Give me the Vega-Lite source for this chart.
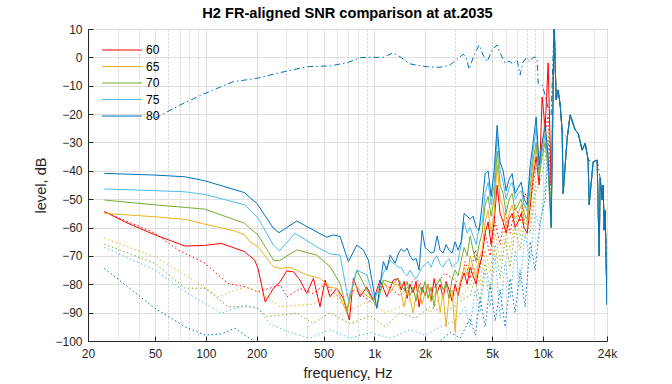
{
"$schema": "https://vega.github.io/schema/vega-lite/v6.json",
"width": 519, "height": 312,
"autosize": {"type": "none"},
"padding": {"left": 88, "top": 29, "right": 65, "bottom": 43},
"title": {"text": "H2 FR-aligned SNR comparison at at.2035", "fontSize": 14.6, "fontWeight": "bold", "font": "Liberation Sans", "color": "#000000", "offset": 2},
"config": {
  "view": {"stroke": "#262626", "strokeWidth": 1},
  "font": "Liberation Sans",
  "axis": {"domainColor": "#262626", "tickColor": "#262626", "labelColor": "#262626", "titleColor": "#262626", "labelFont": "Liberation Sans", "titleFont": "Liberation Sans", "labelFontSize": 12, "titleFontSize": 14.6, "titleFontWeight": "normal", "gridWidth": 1, "domainWidth": 1, "tickWidth": 1}
},
"datasets": {
"snr": [
{"s":"60","f":25,"v":-54.4},{"s":"60","f":34.5,"v":-58.5},{"s":"60","f":50,"v":-62.6},{"s":"60","f":75,"v":-66.5},{"s":"60","f":98.5,"v":-66.3},{"s":"60","f":123.6,"v":-65.6},{"s":"60","f":170,"v":-68.5},{"s":"60","f":195,"v":-71.5},{"s":"60","f":204,"v":-74.4},{"s":"60","f":225,"v":-86.2},{"s":"60","f":252,"v":-81.4},{"s":"60","f":276,"v":-79.1},{"s":"60","f":302,"v":-75.3},{"s":"60","f":331,"v":-75.6},{"s":"60","f":362,"v":-78.5},{"s":"60","f":397,"v":-83.2},{"s":"60","f":435,"v":-77.9},{"s":"60","f":476,"v":-87.9},{"s":"60","f":510,"v":-78.5},{"s":"60","f":546,"v":-84.4},{"s":"60","f":598,"v":-81.4},{"s":"60","f":655,"v":-85},{"s":"60","f":711,"v":-92.6},{"s":"60","f":751,"v":-77.9},{"s":"60","f":823,"v":-84.4},{"s":"60","f":902,"v":-81},{"s":"60","f":987,"v":-85.6},{"s":"60","f":1081,"v":-78.5},{"s":"60","f":1185,"v":-84.4},{"s":"60","f":1297,"v":-78.5},
{"s":"60","f":1383,"v":-78},{"s":"60","f":1441,"v":-82},{"s":"60","f":1502,"v":-79},{"s":"60","f":1564,"v":-85},{"s":"60","f":1629,"v":-80},{"s":"60","f":1697,"v":-83},{"s":"60","f":1768,"v":-79},{"s":"60","f":1842,"v":-88},{"s":"60","f":1919,"v":-81},{"s":"60","f":2000,"v":-84},{"s":"60","f":2084,"v":-80},{"s":"60","f":2171,"v":-86},{"s":"60","f":2262,"v":-78},{"s":"60","f":2357,"v":-83},{"s":"60","f":2455,"v":-80},{"s":"60","f":2558,"v":-85},{"s":"60","f":2665,"v":-79},{"s":"60","f":2776,"v":-82},{"s":"60","f":2893,"v":-86},{"s":"60","f":3014,"v":-80},{"s":"60","f":3140,"v":-84},{"s":"60","f":3271,"v":-79},{"s":"60","f":3408,"v":-76},{"s":"60","f":3551,"v":-80},{"s":"60","f":3700,"v":-74},{"s":"60","f":3854,"v":-77},{"s":"60","f":4016,"v":-80},{"s":"60","f":4182,"v":-74},{"s":"60","f":4358,"v":-70},{"s":"60","f":4541,"v":-62},{"s":"60","f":4730,"v":-58},{"s":"60","f":4928,"v":-66},{"s":"60","f":5135,"v":-58},{"s":"60","f":5350,"v":-45},{"s":"60","f":5573,"v":-55},{"s":"60","f":5806,"v":-58},{"s":"60","f":6050,"v":-62},{"s":"60","f":6304,"v":-57},{"s":"60","f":6568,"v":-55},{"s":"60","f":6843,"v":-60},{"s":"60","f":7130,"v":-58},{"s":"60","f":7428,"v":-55},{"s":"60","f":7739,"v":-60},{"s":"60","f":8063,"v":-62},{"s":"60","f":8400,"v":-53},{"s":"60","f":8751,"v":-42},{"s":"60","f":9117,"v":-35},{"s":"60","f":9499,"v":-45},{"s":"60","f":9894,"v":-14},{"s":"60","f":10310,"v":-25},{"s":"60","f":10740,"v":-2},{"s":"60","f":11190,"v":-45},
{"s":"60","f":11660,"v":12},{"s":"60","f":11980,"v":-15},{"s":"60","f":12310,"v":-11.5},{"s":"60","f":12660,"v":-16.8},{"s":"60","f":13010,"v":-26.2},{"s":"60","f":13180,"v":-48},{"s":"60","f":13930,"v":-28.5},{"s":"60","f":14510,"v":-20.3},{"s":"60","f":15540,"v":-25.6},{"s":"60","f":16190,"v":-26.8},{"s":"60","f":17090,"v":-32.7},{"s":"60","f":17810,"v":-30.3},{"s":"60","f":18550,"v":-36.2},{"s":"60","f":18800,"v":-52},{"s":"60","f":19870,"v":-36.8},{"s":"60","f":20980,"v":-36.2},{"s":"60","f":21560,"v":-70},{"s":"60","f":21860,"v":-42.6},{"s":"60","f":22460,"v":-50.3},{"s":"60","f":22770,"v":-45},{"s":"60","f":23080,"v":-60.9},{"s":"60","f":23400,"v":-53.8},{"s":"60","f":23720,"v":-71.5},{"s":"60","f":24000,"v":-87.3},

{"s":"65","f":25,"v":-55},{"s":"65","f":50,"v":-56.2},{"s":"65","f":75,"v":-57.1},{"s":"65","f":98.5,"v":-58.8},{"s":"65","f":148.5,"v":-61.2},{"s":"65","f":170,"v":-62.6},{"s":"65","f":183,"v":-65},{"s":"65","f":204,"v":-66.8},{"s":"65","f":252,"v":-73.8},{"s":"65","f":276,"v":-74.4},{"s":"65","f":316,"v":-74},{"s":"65","f":397,"v":-76.7},{"s":"65","f":476,"v":-77.9},{"s":"65","f":546,"v":-81.1},{"s":"65","f":598,"v":-81.4},{"s":"65","f":686,"v":-90.2},{"s":"65","f":751,"v":-79.7},{"s":"65","f":861,"v":-83.2},{"s":"65","f":987,"v":-85.6},{"s":"65","f":1131,"v":-79.1},{"s":"65","f":1240,"v":-83},{"s":"65","f":1328,"v":-80},
{"s":"65","f":1383,"v":-80},{"s":"65","f":1441,"v":-83},{"s":"65","f":1502,"v":-88},{"s":"65","f":1564,"v":-82},{"s":"65","f":1629,"v":-85},{"s":"65","f":1697,"v":-90},{"s":"65","f":1768,"v":-84},{"s":"65","f":1842,"v":-82},{"s":"65","f":1919,"v":-87},{"s":"65","f":2000,"v":-83},{"s":"65","f":2084,"v":-80},{"s":"65","f":2171,"v":-86},{"s":"65","f":2262,"v":-84},{"s":"65","f":2357,"v":-82},{"s":"65","f":2455,"v":-90},{"s":"65","f":2558,"v":-83},{"s":"65","f":2665,"v":-95},{"s":"65","f":2776,"v":-84},{"s":"65","f":2893,"v":-82},{"s":"65","f":3014,"v":-97},{"s":"65","f":3140,"v":-82},{"s":"65","f":3271,"v":-78},{"s":"65","f":3408,"v":-74},{"s":"65","f":3551,"v":-77},{"s":"65","f":3700,"v":-70},{"s":"65","f":3854,"v":-74},{"s":"65","f":4016,"v":-78},{"s":"65","f":4182,"v":-71},{"s":"65","f":4358,"v":-68},{"s":"65","f":4541,"v":-58},{"s":"65","f":4730,"v":-54},{"s":"65","f":4928,"v":-62},{"s":"65","f":5135,"v":-55},{"s":"65","f":5350,"v":-38},{"s":"65","f":5573,"v":-50},{"s":"65","f":5806,"v":-53},{"s":"65","f":6050,"v":-60},{"s":"65","f":6304,"v":-55},{"s":"65","f":6568,"v":-52},{"s":"65","f":6843,"v":-57},{"s":"65","f":7130,"v":-55},{"s":"65","f":7428,"v":-52},{"s":"65","f":7739,"v":-58},{"s":"65","f":8063,"v":-59},{"s":"65","f":8400,"v":-50},{"s":"65","f":8751,"v":-40},{"s":"65","f":9117,"v":-32},{"s":"65","f":9499,"v":-40},{"s":"65","f":9894,"v":-30},{"s":"65","f":10310,"v":-25},{"s":"65","f":10740,"v":-35},{"s":"65","f":11190,"v":-58},
{"s":"65","f":11660,"v":12},{"s":"65","f":11980,"v":-15},{"s":"65","f":12310,"v":-11.5},{"s":"65","f":12660,"v":-16.8},{"s":"65","f":13010,"v":-26.2},{"s":"65","f":13180,"v":-48},{"s":"65","f":13930,"v":-28.5},{"s":"65","f":14510,"v":-20.3},{"s":"65","f":15540,"v":-25.6},{"s":"65","f":16190,"v":-26.8},{"s":"65","f":17090,"v":-32.7},{"s":"65","f":17810,"v":-30.3},{"s":"65","f":18550,"v":-36.2},{"s":"65","f":18800,"v":-52},{"s":"65","f":19870,"v":-36.8},{"s":"65","f":20980,"v":-36.2},{"s":"65","f":21560,"v":-70},{"s":"65","f":21860,"v":-42.6},{"s":"65","f":22460,"v":-50.3},{"s":"65","f":22770,"v":-45},{"s":"65","f":23080,"v":-60.9},{"s":"65","f":23400,"v":-53.8},{"s":"65","f":23720,"v":-71.5},{"s":"65","f":24000,"v":-87.3},

{"s":"70","f":25,"v":-50.3},{"s":"70","f":50,"v":-52},{"s":"70","f":75,"v":-52.9},{"s":"70","f":98.5,"v":-53.5},{"s":"70","f":170,"v":-58.5},{"s":"70","f":183,"v":-60.3},{"s":"70","f":204,"v":-62.6},{"s":"70","f":252,"v":-71.5},{"s":"70","f":273,"v":-71.7},{"s":"70","f":346,"v":-67.9},{"s":"70","f":455,"v":-69.7},{"s":"70","f":546,"v":-73.8},{"s":"70","f":626,"v":-79.7},{"s":"70","f":686,"v":-89.1},{"s":"70","f":787,"v":-75},{"s":"70","f":902,"v":-82},{"s":"70","f":1034,"v":-87.9},{"s":"70","f":1131,"v":-78.5},{"s":"70","f":1297,"v":-79.7},
{"s":"70","f":1383,"v":-78},{"s":"70","f":1441,"v":-80},{"s":"70","f":1502,"v":-82},{"s":"70","f":1564,"v":-79},{"s":"70","f":1629,"v":-84},{"s":"70","f":1697,"v":-81},{"s":"70","f":1768,"v":-86},{"s":"70","f":1842,"v":-80},{"s":"70","f":1919,"v":-83},{"s":"70","f":2000,"v":-79},{"s":"70","f":2084,"v":-85},{"s":"70","f":2171,"v":-81},{"s":"70","f":2262,"v":-88},{"s":"70","f":2357,"v":-80},{"s":"70","f":2455,"v":-78},{"s":"70","f":2558,"v":-82},{"s":"70","f":2665,"v":-80},{"s":"70","f":2776,"v":-85},{"s":"70","f":2893,"v":-78},{"s":"70","f":3014,"v":-75},{"s":"70","f":3140,"v":-77},{"s":"70","f":3271,"v":-72},{"s":"70","f":3408,"v":-67},{"s":"70","f":3551,"v":-70},{"s":"70","f":3700,"v":-63},{"s":"70","f":3854,"v":-68},{"s":"70","f":4016,"v":-72},{"s":"70","f":4182,"v":-66},{"s":"70","f":4358,"v":-62},{"s":"70","f":4541,"v":-52},{"s":"70","f":4730,"v":-49},{"s":"70","f":4928,"v":-56},{"s":"70","f":5135,"v":-50},{"s":"70","f":5350,"v":-33},{"s":"70","f":5573,"v":-45},{"s":"70","f":5806,"v":-48},{"s":"70","f":6050,"v":-55},{"s":"70","f":6304,"v":-50},{"s":"70","f":6568,"v":-48},{"s":"70","f":6843,"v":-54},{"s":"70","f":7130,"v":-52},{"s":"70","f":7428,"v":-50},{"s":"70","f":7739,"v":-55},{"s":"70","f":8063,"v":-57},{"s":"70","f":8400,"v":-46},{"s":"70","f":8751,"v":-36},{"s":"70","f":9117,"v":-30},{"s":"70","f":9499,"v":-42},{"s":"70","f":9894,"v":-35},{"s":"70","f":10310,"v":-30},{"s":"70","f":10740,"v":-40},{"s":"70","f":11190,"v":-60},
{"s":"70","f":11660,"v":12},{"s":"70","f":11980,"v":-15},{"s":"70","f":12310,"v":-11.5},{"s":"70","f":12660,"v":-16.8},{"s":"70","f":13010,"v":-26.2},{"s":"70","f":13180,"v":-48},{"s":"70","f":13930,"v":-28.5},{"s":"70","f":14510,"v":-20.3},{"s":"70","f":15540,"v":-25.6},{"s":"70","f":16190,"v":-26.8},{"s":"70","f":17090,"v":-32.7},{"s":"70","f":17810,"v":-30.3},{"s":"70","f":18550,"v":-36.2},{"s":"70","f":18800,"v":-52},{"s":"70","f":19870,"v":-36.8},{"s":"70","f":20980,"v":-36.2},{"s":"70","f":21560,"v":-70},{"s":"70","f":21860,"v":-42.6},{"s":"70","f":22460,"v":-50.3},{"s":"70","f":22770,"v":-45},{"s":"70","f":23080,"v":-60.9},{"s":"70","f":23400,"v":-53.8},{"s":"70","f":23720,"v":-71.5},{"s":"70","f":24000,"v":-87.3},

{"s":"75","f":25,"v":-46.4},{"s":"75","f":50,"v":-47},{"s":"75","f":75,"v":-47.4},{"s":"75","f":98.5,"v":-48.3},{"s":"75","f":170,"v":-52},{"s":"75","f":183,"v":-53.8},{"s":"75","f":204,"v":-56.7},{"s":"75","f":252,"v":-66.2},{"s":"75","f":273,"v":-68.2},{"s":"75","f":338,"v":-62},{"s":"75","f":455,"v":-66.8},{"s":"75","f":546,"v":-69.3},{"s":"75","f":626,"v":-69.7},{"s":"75","f":701,"v":-85.6},{"s":"75","f":787,"v":-75},{"s":"75","f":902,"v":-76.7},{"s":"75","f":1000,"v":-85.6},{"s":"75","f":1131,"v":-76.1},{"s":"75","f":1240,"v":-71.5},
{"s":"75","f":1383,"v":-74},{"s":"75","f":1441,"v":-74},{"s":"75","f":1502,"v":-76},{"s":"75","f":1564,"v":-77},{"s":"75","f":1629,"v":-75},{"s":"75","f":1697,"v":-77},{"s":"75","f":1768,"v":-78},{"s":"75","f":1842,"v":-76},{"s":"75","f":1919,"v":-74},{"s":"75","f":2000,"v":-73},{"s":"75","f":2084,"v":-72},{"s":"75","f":2171,"v":-74},{"s":"75","f":2262,"v":-71},{"s":"75","f":2357,"v":-70},{"s":"75","f":2455,"v":-73},{"s":"75","f":2558,"v":-74},{"s":"75","f":2665,"v":-72},{"s":"75","f":2776,"v":-71},{"s":"75","f":2893,"v":-74},{"s":"75","f":3014,"v":-73},{"s":"75","f":3140,"v":-72},{"s":"75","f":3271,"v":-66},{"s":"75","f":3408,"v":-58},{"s":"75","f":3551,"v":-62},{"s":"75","f":3700,"v":-60},{"s":"75","f":3854,"v":-63},{"s":"75","f":4016,"v":-66},{"s":"75","f":4182,"v":-60},{"s":"75","f":4358,"v":-58},{"s":"75","f":4541,"v":-48},{"s":"75","f":4730,"v":-44},{"s":"75","f":4928,"v":-52},{"s":"75","f":5135,"v":-45},{"s":"75","f":5350,"v":-28},{"s":"75","f":5573,"v":-40},{"s":"75","f":5806,"v":-44},{"s":"75","f":6050,"v":-50},{"s":"75","f":6304,"v":-46},{"s":"75","f":6568,"v":-44},{"s":"75","f":6843,"v":-50},{"s":"75","f":7130,"v":-48},{"s":"75","f":7428,"v":-47},{"s":"75","f":7739,"v":-52},{"s":"75","f":8063,"v":-54},{"s":"75","f":8400,"v":-42},{"s":"75","f":8751,"v":-33},{"s":"75","f":9117,"v":-25},{"s":"75","f":9499,"v":-40},{"s":"75","f":9894,"v":-33},{"s":"75","f":10310,"v":-27},{"s":"75","f":10740,"v":-38},{"s":"75","f":11190,"v":-58},
{"s":"75","f":11660,"v":12},{"s":"75","f":11980,"v":-15},{"s":"75","f":12310,"v":-11.5},{"s":"75","f":12660,"v":-16.8},{"s":"75","f":13010,"v":-26.2},{"s":"75","f":13180,"v":-48},{"s":"75","f":13930,"v":-28.5},{"s":"75","f":14510,"v":-20.3},{"s":"75","f":15540,"v":-25.6},{"s":"75","f":16190,"v":-26.8},{"s":"75","f":17090,"v":-32.7},{"s":"75","f":17810,"v":-30.3},{"s":"75","f":18550,"v":-36.2},{"s":"75","f":18800,"v":-52},{"s":"75","f":19870,"v":-36.8},{"s":"75","f":20980,"v":-36.2},{"s":"75","f":21560,"v":-70},{"s":"75","f":21860,"v":-42.6},{"s":"75","f":22460,"v":-50.3},{"s":"75","f":22770,"v":-45},{"s":"75","f":23080,"v":-60.9},{"s":"75","f":23400,"v":-53.8},{"s":"75","f":23720,"v":-71.5},{"s":"75","f":24000,"v":-87.3},

{"s":"80","f":25,"v":-40.9},{"s":"80","f":50,"v":-41.5},{"s":"80","f":75,"v":-42.1},{"s":"80","f":98.5,"v":-43.5},{"s":"80","f":170,"v":-47.7},{"s":"80","f":183,"v":-49.5},{"s":"80","f":201,"v":-51.5},{"s":"80","f":252,"v":-60.3},{"s":"80","f":272,"v":-61.8},{"s":"80","f":346,"v":-57.7},{"s":"80","f":435,"v":-60.9},{"s":"80","f":522,"v":-63.4},{"s":"80","f":571,"v":-62.6},{"s":"80","f":626,"v":-63.2},{"s":"80","f":701,"v":-72},{"s":"80","f":787,"v":-66.2},{"s":"80","f":861,"v":-67.9},{"s":"80","f":922,"v":-71.5},{"s":"80","f":1034,"v":-88.5},{"s":"80","f":1131,"v":-72},{"s":"80","f":1185,"v":-75},{"s":"80","f":1240,"v":-69.7},{"s":"80","f":1328,"v":-72.6},
{"s":"80","f":1383,"v":-69.4},{"s":"80","f":1441,"v":-67.5},{"s":"80","f":1502,"v":-68.5},{"s":"80","f":1564,"v":-67.3},{"s":"80","f":1629,"v":-70},{"s":"80","f":1697,"v":-71.5},{"s":"80","f":1768,"v":-70.9},{"s":"80","f":1842,"v":-75},{"s":"80","f":1919,"v":-61},{"s":"80","f":2000,"v":-67},{"s":"80","f":2084,"v":-68},{"s":"80","f":2171,"v":-69},{"s":"80","f":2262,"v":-68.5},{"s":"80","f":2357,"v":-63},{"s":"80","f":2455,"v":-68},{"s":"80","f":2558,"v":-69},{"s":"80","f":2665,"v":-66},{"s":"80","f":2776,"v":-68},{"s":"80","f":2893,"v":-69},{"s":"80","f":3014,"v":-65},{"s":"80","f":3140,"v":-68},{"s":"80","f":3271,"v":-65},{"s":"80","f":3408,"v":-55},{"s":"80","f":3551,"v":-56},{"s":"80","f":3700,"v":-57},{"s":"80","f":3854,"v":-56},{"s":"80","f":4016,"v":-60},{"s":"80","f":4182,"v":-61},{"s":"80","f":4358,"v":-52},{"s":"80","f":4541,"v":-41},{"s":"80","f":4730,"v":-40},{"s":"80","f":4928,"v":-49},{"s":"80","f":5135,"v":-40},{"s":"80","f":5350,"v":-24},{"s":"80","f":5573,"v":-37},{"s":"80","f":5806,"v":-40},{"s":"80","f":6050,"v":-47},{"s":"80","f":6304,"v":-43},{"s":"80","f":6568,"v":-41},{"s":"80","f":6843,"v":-48},{"s":"80","f":7130,"v":-46},{"s":"80","f":7428,"v":-44},{"s":"80","f":7739,"v":-50},{"s":"80","f":8063,"v":-52},{"s":"80","f":8400,"v":-38},{"s":"80","f":8751,"v":-30},{"s":"80","f":9117,"v":-21},{"s":"80","f":9499,"v":-38},{"s":"80","f":9894,"v":-30},{"s":"80","f":10310,"v":-24},{"s":"80","f":10740,"v":-35},{"s":"80","f":11190,"v":-60},
{"s":"80","f":11660,"v":12},{"s":"80","f":11980,"v":-15},{"s":"80","f":12310,"v":-11.5},{"s":"80","f":12660,"v":-16.8},{"s":"80","f":13010,"v":-26.2},{"s":"80","f":13180,"v":-48},{"s":"80","f":13930,"v":-28.5},{"s":"80","f":14510,"v":-20.3},{"s":"80","f":15540,"v":-25.6},{"s":"80","f":16190,"v":-26.8},{"s":"80","f":17090,"v":-32.7},{"s":"80","f":17810,"v":-30.3},{"s":"80","f":18550,"v":-36.2},{"s":"80","f":18800,"v":-52},{"s":"80","f":19870,"v":-36.8},{"s":"80","f":20980,"v":-36.2},{"s":"80","f":21560,"v":-70},{"s":"80","f":21860,"v":-42.6},{"s":"80","f":22460,"v":-50.3},{"s":"80","f":22770,"v":-45},{"s":"80","f":23080,"v":-60.9},{"s":"80","f":23400,"v":-53.8},{"s":"80","f":23720,"v":-71.5},{"s":"80","f":24000,"v":-87.3}
],
"noise": [
{"s":"60","f":25,"v":-54.4},{"s":"60","f":34.5,"v":-57.9},{"s":"60","f":50,"v":-62},{"s":"60","f":68.4,"v":-67.9},{"s":"60","f":98.9,"v":-72.6},{"s":"60","f":135.5,"v":-79.7},{"s":"60","f":170.9,"v":-80.9},{"s":"60","f":204,"v":-82.6},{"s":"60","f":275.8,"v":-80.3},{"s":"60","f":303.4,"v":-84.4},{"s":"60","f":362.5,"v":-81.5},{"s":"60","f":432.8,"v":-83.2},{"s":"60","f":510,"v":-80},{"s":"60","f":626,"v":-85},{"s":"60","f":768.6,"v":-82},{"s":"60","f":943,"v":-86},{"s":"60","f":1158,"v":-80},{"s":"60","f":1421,"v":-84},{"s":"60","f":1745,"v":-78},{"s":"60","f":2141,"v":-83},{"s":"60","f":2628,"v":-76},{"s":"60","f":3227,"v":-80},{"s":"60","f":3455,"v":-72},{"s":"60","f":3700,"v":-78},{"s":"60","f":3960,"v":-68},{"s":"60","f":4240,"v":-74},{"s":"60","f":4541,"v":-62},{"s":"60","f":4861,"v":-70},{"s":"60","f":5206,"v":-58},{"s":"60","f":5573,"v":-66},{"s":"60","f":5970,"v":-55},{"s":"60","f":6388,"v":-62},{"s":"60","f":6843,"v":-52},{"s":"60","f":7325,"v":-58},{"s":"60","f":7842,"v":-48},{"s":"60","f":8400,"v":-52},{"s":"60","f":8990,"v":-40},{"s":"60","f":9627,"v":-35},{"s":"60","f":10310,"v":-28},{"s":"60","f":10740,"v":-20},{"s":"60","f":11190,"v":-45},
{"s":"65","f":25,"v":-63.8},{"s":"65","f":50,"v":-70.3},{"s":"65","f":78.4,"v":-77.3},{"s":"65","f":118.2,"v":-84.4},{"s":"65","f":170.9,"v":-80.9},{"s":"65","f":204,"v":-82.6},{"s":"65","f":275.8,"v":-87.9},{"s":"65","f":432.8,"v":-87},{"s":"65","f":546,"v":-83.2},{"s":"65","f":717.8,"v":-89},{"s":"65","f":943,"v":-86},{"s":"65","f":1158,"v":-90},{"s":"65","f":1421,"v":-88},{"s":"65","f":1745,"v":-84},{"s":"65","f":2141,"v":-90},{"s":"65","f":2628,"v":-82},{"s":"65","f":3227,"v":-85},{"s":"65","f":3700,"v":-80},{"s":"65","f":3960,"v":-74},{"s":"65","f":4240,"v":-80},{"s":"65","f":4541,"v":-68},{"s":"65","f":4861,"v":-76},{"s":"65","f":5206,"v":-62},{"s":"65","f":5573,"v":-72},{"s":"65","f":5970,"v":-60},{"s":"65","f":6388,"v":-68},{"s":"65","f":6843,"v":-56},{"s":"65","f":7325,"v":-63},{"s":"65","f":7842,"v":-52},{"s":"65","f":8400,"v":-58},{"s":"65","f":8990,"v":-45},{"s":"65","f":9627,"v":-40},{"s":"65","f":10310,"v":-32},{"s":"65","f":10740,"v":-25},{"s":"65","f":11190,"v":-50},
{"s":"70","f":25,"v":-65.9},{"s":"70","f":50,"v":-72.6},{"s":"70","f":75.3,"v":-81.4},{"s":"70","f":98.9,"v":-81.4},{"s":"70","f":135.5,"v":-87.9},{"s":"70","f":178.1,"v":-87.9},{"s":"70","f":204,"v":-88.5},{"s":"70","f":230.9,"v":-91.4},{"s":"70","f":347.9,"v":-90.2},{"s":"70","f":432.8,"v":-93.8},{"s":"70","f":546,"v":-90},{"s":"70","f":717.8,"v":-94},{"s":"70","f":943,"v":-91},{"s":"70","f":1158,"v":-95},{"s":"70","f":1421,"v":-90},{"s":"70","f":1745,"v":-92},{"s":"70","f":2141,"v":-88},{"s":"70","f":2628,"v":-90},{"s":"70","f":3227,"v":-86},{"s":"70","f":3700,"v":-84},{"s":"70","f":3960,"v":-78},{"s":"70","f":4240,"v":-86},{"s":"70","f":4541,"v":-72},{"s":"70","f":4861,"v":-82},{"s":"70","f":5206,"v":-66},{"s":"70","f":5573,"v":-78},{"s":"70","f":5970,"v":-64},{"s":"70","f":6388,"v":-74},{"s":"70","f":6843,"v":-60},{"s":"70","f":7325,"v":-68},{"s":"70","f":7842,"v":-56},{"s":"70","f":8400,"v":-62},{"s":"70","f":8990,"v":-48},{"s":"70","f":9627,"v":-44},{"s":"70","f":10310,"v":-36},{"s":"70","f":10740,"v":-28},{"s":"70","f":11190,"v":-52},
{"s":"75","f":25,"v":-67},{"s":"75","f":50,"v":-75},{"s":"75","f":75.3,"v":-82.6},{"s":"75","f":123.1,"v":-90.2},{"s":"75","f":170.9,"v":-87.3},{"s":"75","f":204,"v":-88.5},{"s":"75","f":240.5,"v":-94},{"s":"75","f":316,"v":-97},{"s":"75","f":415.6,"v":-99},{"s":"75","f":546,"v":-96},{"s":"75","f":717.8,"v":-99},{"s":"75","f":943,"v":-97},{"s":"75","f":1240,"v":-99},{"s":"75","f":1629,"v":-96},{"s":"75","f":2000,"v":-98},{"s":"75","f":2455,"v":-95},{"s":"75","f":3014,"v":-93},{"s":"75","f":3455,"v":-88},{"s":"75","f":3700,"v":-95},{"s":"75","f":3960,"v":-82},{"s":"75","f":4240,"v":-90},{"s":"75","f":4541,"v":-75},{"s":"75","f":4861,"v":-88},{"s":"75","f":5206,"v":-70},{"s":"75","f":5573,"v":-92},{"s":"75","f":5970,"v":-72},{"s":"75","f":6388,"v":-85},{"s":"75","f":6843,"v":-68},{"s":"75","f":7325,"v":-80},{"s":"75","f":7842,"v":-62},{"s":"75","f":8400,"v":-72},{"s":"75","f":8990,"v":-55},{"s":"75","f":9627,"v":-60},{"s":"75","f":10310,"v":-45},{"s":"75","f":10740,"v":-30},{"s":"75","f":11190,"v":-55},
{"s":"80","f":25,"v":-74.4},{"s":"80","f":50,"v":-88.5},{"s":"80","f":75.3,"v":-95},{"s":"80","f":98.9,"v":-97.9},{"s":"80","f":123.1,"v":-97.5},{"s":"80","f":149.1,"v":-95.5},{"s":"80","f":170.9,"v":-98},{"s":"80","f":204,"v":-101},{"s":"80","f":275.8,"v":-104},{"s":"80","f":1421,"v":-104},{"s":"80","f":2141,"v":-103},{"s":"80","f":2455,"v":-100},{"s":"80","f":2814,"v":-97},{"s":"80","f":3227,"v":-99},{"s":"80","f":3700,"v":-92},{"s":"80","f":3960,"v":-98},{"s":"80","f":4240,"v":-85},{"s":"80","f":4541,"v":-95},{"s":"80","f":4861,"v":-80},{"s":"80","f":5206,"v":-93},{"s":"80","f":5573,"v":-82},{"s":"80","f":5970,"v":-95},{"s":"80","f":6388,"v":-78},{"s":"80","f":6843,"v":-90},{"s":"80","f":7325,"v":-75},{"s":"80","f":7842,"v":-88},{"s":"80","f":8400,"v":-65},{"s":"80","f":8990,"v":-75},{"s":"80","f":9627,"v":-58},{"s":"80","f":10310,"v":-50},{"s":"80","f":10740,"v":-35},{"s":"80","f":11190,"v":-58}
],
"fr": [
{"f":50,"v":-21.5},{"f":70.3,"v":-16.8},{"f":98.9,"v":-12.7},{"f":145,"v":-8.6},{"f":201,"v":-7.4},{"f":265,"v":-5.6},{"f":399,"v":-3.3},{"f":546,"v":-3.0},{"f":689,"v":-1.9},{"f":823,"v":-0.1},{"f":943,"v":0},{"f":1126,"v":0},{"f":1291,"v":1.6},{"f":1421,"v":0.2},{"f":1629,"v":-2.3},{"f":2055,"v":-3.3},{"f":2455,"v":-3.5},{"f":2814,"v":-2.7},{"f":3227,"v":0.2},{"f":3362,"v":1.1},{"f":3502,"v":0.1},{"f":3649,"v":-4.2},{"f":3906,"v":0.8},{"f":4182,"v":4.4},{"f":4419,"v":0.8},{"f":4668,"v":-1.5},{"f":4996,"v":2.6},{"f":5350,"v":4.4},{"f":5651,"v":0.8},{"f":5970,"v":-2.1},{"f":6304,"v":-1.3},{"f":6659,"v":-2.4},{"f":7032,"v":-0.9},{"f":7325,"v":-6.2},{"f":7631,"v":-1.6},{"f":7951,"v":-0.3},{"f":8400,"v":-1.5},{"f":8630,"v":-0.3},{"f":8990,"v":0.2},{"f":9240,"v":-0.9},{"f":9370,"v":-9.1},{"f":9894,"v":-9.7},{"f":10310,"v":-13.3},{"f":10740,"v":-18},{"f":11190,"v":-20.3},
{"f":11660,"v":12},{"f":11980,"v":-15},{"f":12310,"v":-11.5},{"f":12660,"v":-16.8},{"f":13010,"v":-26.2},{"f":13930,"v":-28.5},{"f":14510,"v":-20.3},{"f":15540,"v":-25.6},{"f":16190,"v":-26.8},{"f":17090,"v":-32.7},{"f":17810,"v":-30.3},{"f":18550,"v":-36.2},{"f":19870,"v":-36.8},{"f":20980,"v":-36.2},{"f":21860,"v":-42.6},{"f":22460,"v":-50.3},{"f":22770,"v":-45},{"f":23080,"v":-60.9},{"f":23400,"v":-53.8},{"f":23720,"v":-71.5},{"f":24000,"v":-87.3}
]
},
"encoding": {
  "x": {"field": "f", "type": "quantitative", "title": "frequency, Hz",
    "scale": {"type": "log", "domain": [20, 24000], "nice": false},
    "axis": {
      "values": [20,30,40,50,60,70,80,90,100,200,300,400,500,600,700,800,900,1000,2000,3000,4000,5000,6000,7000,8000,9000,10000,20000,24000],
      "labelExpr": "indexof([20,50,100,200,500,1000,2000,5000,10000,24000], datum.value) >= 0 ? (datum.value >= 1000 ? (datum.value / 1000) + 'k' : '' + datum.value) : ''",
      "labelFlush": false, "labelOverlap": false, "grid": true,
      "tickSize": -5, "labelPadding": 12, "titlePadding": 6,
      "tickOpacity": {"condition": {"test": "indexof([20,50,100,200,500,1000,2000,5000,10000,24000], datum.value) < 0", "value": 0}, "value": 1},
      "gridDash": {"condition": {"test": "indexof([20,50,100,200,500,1000,2000,5000,10000,24000], datum.value) < 0", "value": [2, 2]}, "value": []},
      "gridColor": {"condition": {"test": "indexof([20,50,100,200,500,1000,2000,5000,10000,24000], datum.value) < 0", "value": "#cfcfcf"}, "value": "#dfdfdf"}
    }},
  "y": {"field": "v", "type": "quantitative", "title": "level, dB",
    "scale": {"domain": [-100, 10], "nice": false, "zero": false},
    "axis": {"values": [-100,-90,-80,-70,-60,-50,-40,-30,-20,-10,0,10], "grid": true, "labelFlush": false, "tickSize": -5, "labelPadding": 11, "titlePadding": 6, "gridColor": "#dfdfdf"}}
},
"layer": [
  {"data": {"name": "noise"}, "transform": [{"filter": "datum.s == '60'"}],
   "mark": {"type": "line", "strokeDash": [1.5, 2.5], "strokeWidth": 1, "clip": true, "color": "#ff0000"}},
  {"data": {"name": "noise"}, "transform": [{"filter": "datum.s == '65'"}],
   "mark": {"type": "line", "strokeDash": [1.5, 2.5], "strokeWidth": 1, "clip": true, "color": "#edb120"}},
  {"data": {"name": "noise"}, "transform": [{"filter": "datum.s == '70'"}],
   "mark": {"type": "line", "strokeDash": [1.5, 2.5], "strokeWidth": 1, "clip": true, "color": "#77ac30"}},
  {"data": {"name": "noise"}, "transform": [{"filter": "datum.s == '75'"}],
   "mark": {"type": "line", "strokeDash": [1.5, 2.5], "strokeWidth": 1, "clip": true, "color": "#4dbeee"}},
  {"data": {"name": "noise"}, "transform": [{"filter": "datum.s == '80'"}],
   "mark": {"type": "line", "strokeDash": [1.5, 2.5], "strokeWidth": 1, "clip": true, "color": "#0072bd"}},
  {"data": {"name": "snr"},
   "mark": {"type": "line", "strokeWidth": 1, "clip": true},
   "encoding": {
     "color": {"field": "s", "type": "nominal", "scale": {"domain": ["60","65","70","75","80"], "range": ["#ff0000","#edb120","#77ac30","#4dbeee","#0072bd"]},
       "legend": {"title": null, "orient": "none", "legendX": 14, "legendY": 13, "symbolType": "M-2.667,0H2.667", "symbolSize": 225, "symbolStrokeWidth": 1, "symbolOffset": 12, "rowPadding": 2.5, "padding": 0, "labelFontSize": 12, "labelFont": "Liberation Sans", "labelColor": "#000000", "labelOffset": 16}}}},
  {"data": {"name": "fr"},
   "mark": {"type": "line", "strokeDash": [6, 3, 1.5, 3], "strokeWidth": 1, "color": "#0072bd", "clip": true}}
]
}
